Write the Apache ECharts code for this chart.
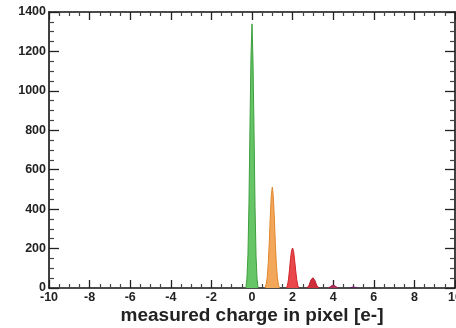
<!DOCTYPE html>
<html><head><meta charset="utf-8">
<script src="https://cdn.jsdelivr.net/npm/echarts@6/dist/echarts.min.js"></script>
<style>html,body{margin:0;padding:0;background:#fff}#c{width:456px;height:328px}</style>
</head><body><div id="c"></div>
<script>
// Peak 0 e- (green)
const peak0X = [-0.3,-0.25,-0.2,-0.15,-0.1,-0.05,0,0.05,0.1,0.15,0.2,0.25,0.3];
const peak0Y = [0,50,170,430,820,1180,1340,1150,800,410,160,45,0];
// Peak 1 e- (orange)
const peak1X = [0.65,0.7,0.75,0.8,0.85,0.9,0.95,1.0,1.05,1.1,1.15,1.2,1.25,1.3,1.35];
const peak1Y = [0,20,55,125,230,360,470,512,465,355,225,120,55,18,0];
// Peak 2 e- (red)
const peak2X = [1.7,1.75,1.8,1.85,1.9,1.95,2.0,2.05,2.1,2.15,2.2,2.25,2.3];
const peak2Y = [0,15,45,95,150,190,203,185,140,90,45,15,0];
// Peak 3 e- (dark red)
const peak3X = [2.7,2.75,2.8,2.85,2.9,2.95,3.0,3.05,3.1,3.15,3.2,3.25,3.3];
const peak3Y = [0,4,12,25,40,50,52,48,38,24,12,4,0];
// Peak 4 e- (crimson)
const peak4X = [3.75,3.8,3.85,3.9,3.95,4.0,4.05,4.1,4.15,4.2,4.25];
const peak4Y = [0,3,6,10,13,14,13,10,6,3,0];
// Peak 5 e- (purple)
const peak5X = [4.8,4.85,4.9,4.95,5.0,5.05,5.1,5.15,5.2];
const peak5Y = [0,1.5,3,4.5,5,4.5,3,1.5,0];

const xTitle = 'measured charge in pixel [e-]';

const peaks = [
  {x: peak0X, y: peak0Y, fill: '#66c566', line: '#3f9f3f'},
  {x: peak1X, y: peak1Y, fill: '#f2a75a', line: '#e0872c'},
  {x: peak2X, y: peak2Y, fill: '#e8484a', line: '#d02228'},
  {x: peak3X, y: peak3Y, fill: '#d0303c', line: '#b81a2a'},
  {x: peak4X, y: peak4Y, fill: '#b03058', line: '#982048'},
  {x: peak5X, y: peak5Y, fill: '#802070', line: '#601858'}
];

const chart = echarts.init(document.getElementById('c'), null, {renderer: 'canvas'});
const lab = {fontFamily: 'Liberation Sans, Arial, sans-serif', fontWeight: 'bold', fontSize: 12.5, color: '#222', formatter: v => String(v)};
const axLine = {show: true, onZero: false, lineStyle: {color: '#111', width: 1.6}};
const tickX = {show: true, inside: true, length: 8, lineStyle: {color: '#222', width: 1.3}};
const minorX = {show: true, splitNumber: 4, length: 4, lineStyle: {color: '#444', width: 1.2}};
const tickY = {show: true, inside: true, length: 10, lineStyle: {color: '#222', width: 1.3}};
const minorY = {show: true, splitNumber: 4, length: 5, lineStyle: {color: '#444', width: 1.2}};
chart.setOption({
  animation: false,
  grid: {left: 49, right: 1, top: 12, bottom: 40, outerBoundsMode: 'none', containLabel: false},
  xAxis: [{
    type: 'value', min: -10, max: 10, interval: 2,
    axisLine: axLine, axisTick: tickX, minorTick: minorX,
    splitLine: {show: false},
    axisLabel: Object.assign({margin: 3}, lab),
    name: xTitle, nameLocation: 'middle', nameGap: 18, nameMoveOverlap: false,
    nameTextStyle: {fontFamily: 'Liberation Sans, Arial, sans-serif', fontWeight: 'bold', fontSize: 19, color: '#222'}
  }, {
    type: 'value', position: 'top', min: -10, max: 10, interval: 2,
    axisLine: axLine, axisTick: tickX, minorTick: minorX,
    splitLine: {show: false}, axisLabel: {show: false}
  }],
  yAxis: [{
    type: 'value', min: 0, max: 1400, interval: 200,
    axisLine: axLine, axisTick: tickY, minorTick: minorY,
    splitLine: {show: false},
    axisLabel: Object.assign({margin: 3}, lab)
  }, {
    type: 'value', position: 'right', min: 0, max: 1400, interval: 200,
    axisLine: axLine, axisTick: tickY, minorTick: minorY,
    splitLine: {show: false}, axisLabel: {show: false}
  }],
  series: peaks.map(p => ({
    type: 'line', xAxisIndex: 0, yAxisIndex: 0,
    data: p.x.map((v, i) => [v, p.y[i]]),
    showSymbol: false, symbol: 'none',
    lineStyle: {color: p.line, width: 1},
    areaStyle: {color: p.fill, opacity: 1},
    z: 1
  }))
});
</script></body></html>
